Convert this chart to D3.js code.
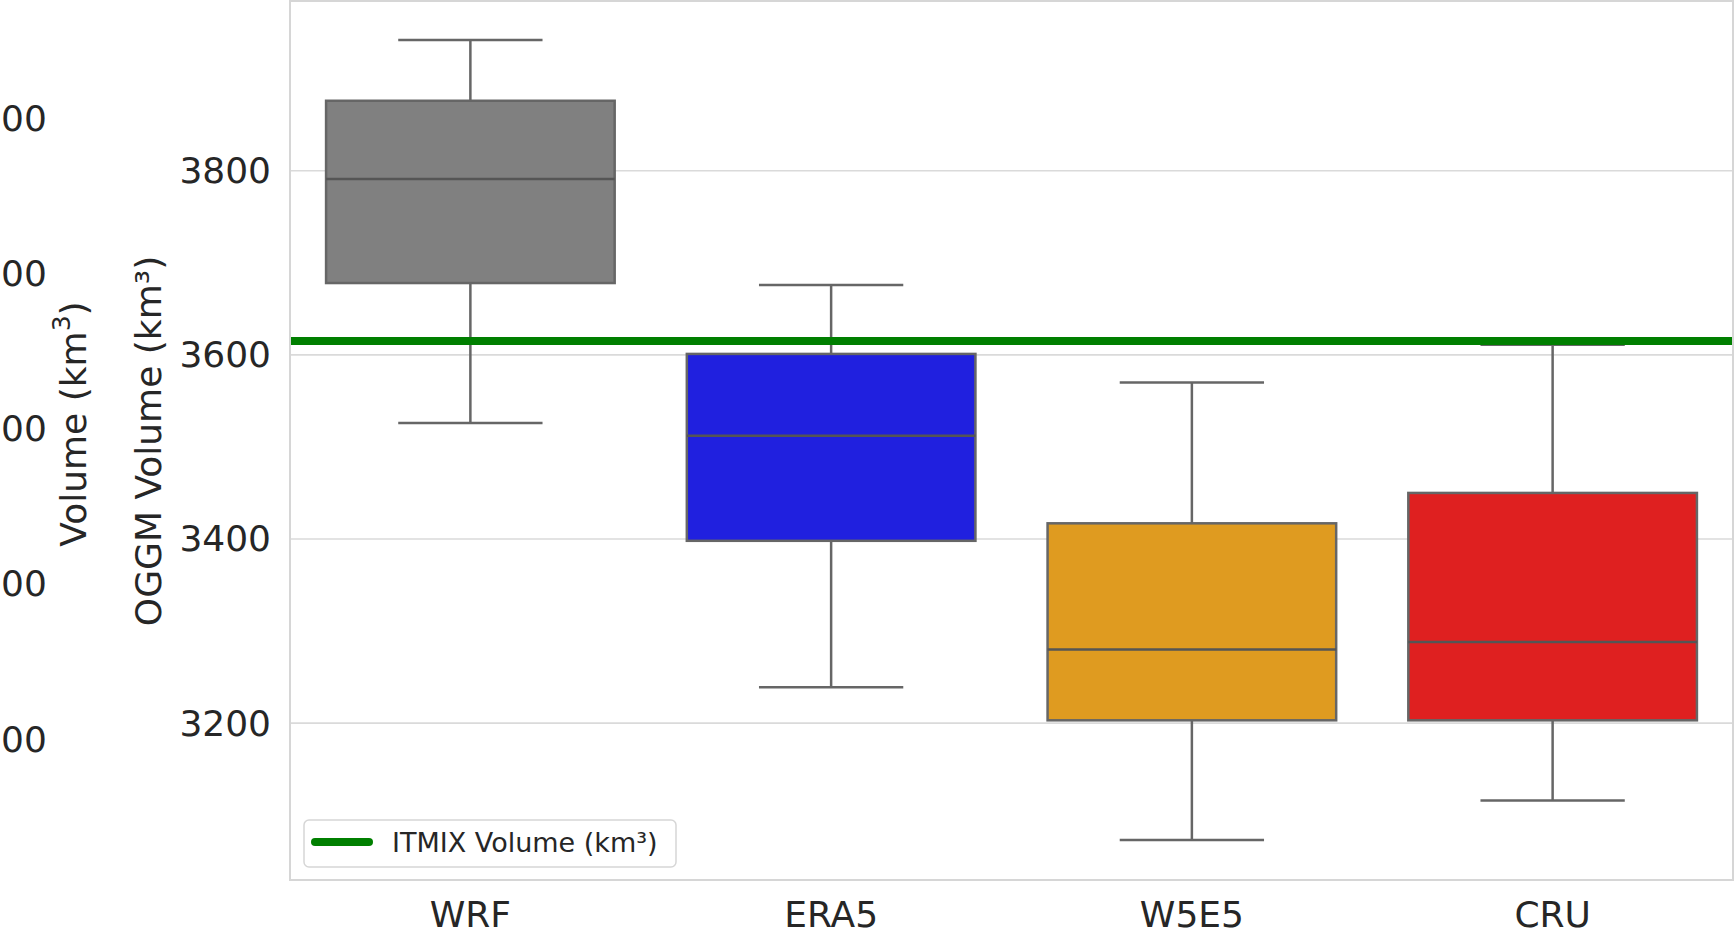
<!DOCTYPE html>
<html>
<head>
<meta charset="utf-8">
<script src="https://cdn.jsdelivr.net/npm/d3@7"></script>
<style>
  html, body { margin: 0; padding: 0; background: #ffffff; overflow: hidden; }
  svg { display: block; font-family: "DejaVu Sans", sans-serif; }
</style>
</head>
<body>
<svg id="chart" width="1735" height="937"></svg>
<script>
// Forcing datasets on the x axis
const categories = ["WRF", "ERA5", "W5E5", "CRU"];
// Box statistics of the OGGM glacier volume ensemble (km³)
const whiskerLow = [3526, 3239, 3073, 3116];
const q1 = [3678, 3398, 3203, 3203];
const median = [3791, 3512, 3280, 3288];
const q3 = [3876, 3601, 3417, 3450];
const whiskerHigh = [3942, 3676, 3570, 3611];
const boxColors = ["#808080", "#2020df", "#df9b20", "#df2020"];
// Reference volume from ITMIX (km³)
const itmixVolume = 3615;
const yTicks = [3200, 3400, 3600, 3800];
// Visible ends of the neighbouring panel's tick labels (top to bottom)
const neighborTickLabels = ["00", "00", "00", "00", "00"];

const W = 1735, H = 937;
const plot = { left: 290, right: 1733, top: 0, bottom: 880 };
const svg = d3.select("#chart");
const textColor = "#262626";
const lineColor = "#666666";

const x = d3.scaleBand().domain(categories).range([plot.left, plot.right]).padding(0);
const lo = d3.min(whiskerLow), hi = d3.max(whiskerHigh);
const pad = (hi - lo) * 0.05;
const y = d3.scaleLinear().domain([lo - pad, hi + pad]).range([plot.bottom, plot.top]);

// Horizontal grid
svg.append("g")
  .selectAll("line").data(yTicks).join("line")
  .attr("x1", plot.left).attr("x2", plot.right)
  .attr("y1", d => y(d)).attr("y2", d => y(d))
  .attr("stroke", "#dadada").attr("stroke-width", 1.6);

// Boxes
const rows = categories.map((c, i) => ({
  c, lo: whiskerLow[i], q1: q1[i], med: median[i], q3: q3[i], hi: whiskerHigh[i], color: boxColors[i]
}));
const bw = x.bandwidth();
const boxW = bw * 0.8, capW = boxW * 0.5;
const g = svg.append("g").selectAll("g").data(rows).join("g")
  .attr("transform", d => `translate(${x(d.c) + bw / 2},0)`);

g.append("line").attr("x1", 0).attr("x2", 0)
  .attr("y1", d => y(d.q3)).attr("y2", d => y(d.hi))
  .attr("stroke", lineColor).attr("stroke-width", 2.5);
g.append("line").attr("x1", 0).attr("x2", 0)
  .attr("y1", d => y(d.q1)).attr("y2", d => y(d.lo))
  .attr("stroke", lineColor).attr("stroke-width", 2.5);
g.append("line").attr("x1", -capW / 2).attr("x2", capW / 2)
  .attr("y1", d => y(d.hi)).attr("y2", d => y(d.hi))
  .attr("stroke", lineColor).attr("stroke-width", 2.5);
g.append("line").attr("x1", -capW / 2).attr("x2", capW / 2)
  .attr("y1", d => y(d.lo)).attr("y2", d => y(d.lo))
  .attr("stroke", lineColor).attr("stroke-width", 2.5);
g.append("rect")
  .attr("x", -boxW / 2).attr("width", boxW)
  .attr("y", d => y(d.q3)).attr("height", d => y(d.q1) - y(d.q3))
  .attr("fill", d => d.color)
  .attr("stroke", lineColor).attr("stroke-width", 2.5);
g.append("line").attr("x1", -boxW / 2).attr("x2", boxW / 2)
  .attr("y1", d => y(d.med)).attr("y2", d => y(d.med))
  .attr("stroke", "#555555").attr("stroke-width", 2.5);

// ITMIX reference line
svg.append("line")
  .attr("x1", plot.left).attr("x2", plot.right)
  .attr("y1", y(itmixVolume)).attr("y2", y(itmixVolume))
  .attr("stroke", "#007f00").attr("stroke-width", 8);

// Frame
svg.append("rect")
  .attr("x", plot.left).attr("y", plot.top + 1)
  .attr("width", plot.right - plot.left).attr("height", plot.bottom - plot.top - 1)
  .attr("fill", "none").attr("stroke", "#d6d6d6").attr("stroke-width", 2);

// Y axis tick labels
svg.append("g")
  .selectAll("text").data(yTicks).join("text")
  .attr("x", 271).attr("y", d => y(d))
  .attr("text-anchor", "end").attr("dominant-baseline", "central")
  .attr("font-size", 36).attr("fill", textColor)
  .text(d => d);

// X axis tick labels
svg.append("g")
  .selectAll("text").data(categories).join("text")
  .attr("x", d => x(d) + bw / 2).attr("y", 927)
  .attr("text-anchor", "middle")
  .attr("font-size", 36).attr("fill", textColor)
  .text(d => d);

// Y axis title
svg.append("text")
  .attr("transform", `translate(148,${(plot.top + plot.bottom) / 2 + 1}) rotate(-90)`)
  .attr("text-anchor", "middle").attr("dominant-baseline", "central")
  .attr("font-size", 36).attr("fill", textColor)
  .text("OGGM Volume (km³)");

// Neighbouring panel: tick labels and axis title
const yN = d3.scalePoint().domain(d3.range(neighborTickLabels.length)).range([118, 739]);
svg.append("g")
  .selectAll("text").data(neighborTickLabels).join("text")
  .attr("x", 1).attr("y", (d, i) => yN(i))
  .attr("text-anchor", "start").attr("dominant-baseline", "central")
  .attr("font-size", 36).attr("fill", textColor)
  .text(d => d);
const vt = svg.append("text")
  .attr("transform", "translate(73,424) rotate(-90)")
  .attr("text-anchor", "middle").attr("dominant-baseline", "central")
  .attr("font-size", 36).attr("fill", textColor);
vt.append("tspan").text("Volume (km");
vt.append("tspan").attr("font-size", 25).attr("dy", -12).text("3");
vt.append("tspan").attr("dy", 12).text(")");

// Legend
const lg = svg.append("g");
lg.append("rect")
  .attr("x", 304).attr("y", 820).attr("width", 372).attr("height", 47).attr("rx", 5)
  .attr("fill", "#ffffff").attr("fill-opacity", 0.85)
  .attr("stroke", "#d6d6d6").attr("stroke-width", 1.5);
lg.append("line")
  .attr("x1", 315).attr("x2", 369).attr("y1", 842).attr("y2", 842)
  .attr("stroke", "#007f00").attr("stroke-width", 8).attr("stroke-linecap", "round");
lg.append("text")
  .attr("x", 392).attr("y", 852)
  .attr("font-size", 27).attr("fill", textColor)
  .text("ITMIX Volume (km³)");
</script>
</body>
</html>
